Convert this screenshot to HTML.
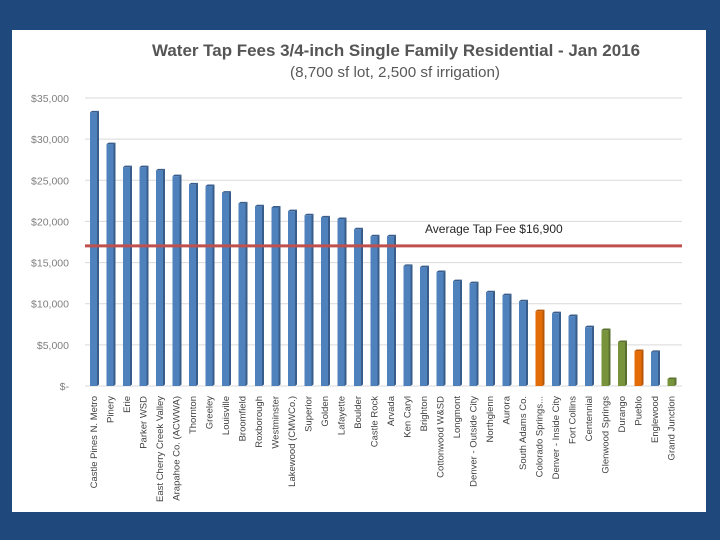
<!DOCTYPE html>
<html><head><meta charset="utf-8"><style>
body{margin:0;width:720px;height:540px;background:#1f497d;overflow:hidden}
svg{display:block}
text{font-family:"Liberation Sans",sans-serif}
</style></head><body>
<svg width="720" height="540">
<rect x="12" y="30" width="694" height="482" fill="#fff"/>
<text x="152" y="56" textLength="488" lengthAdjust="spacingAndGlyphs" font-size="17" font-weight="bold" fill="#555">Water Tap Fees  3/4-inch Single Family Residential - Jan 2016</text>
<text x="290" y="77" textLength="210" lengthAdjust="spacingAndGlyphs" font-size="15" fill="#595959">(8,700 sf lot, 2,500 sf irrigation)</text>
<g id="grid"></g><g id="bars"></g><g id="labels"></g>
</svg>
<script>
const categories=["Castle Pines N. Metro","Pinery","Erie","Parker WSD","East Cherry Creek Valley","Arapahoe Co. (ACWWA)","Thornton","Greeley","Louisville","Broomfield","Roxborough","Westminster","Lakewood (CMWCo.)","Superior","Golden","Lafayette","Boulder","Castle Rock","Arvada","Ken Caryl","Brighton","Cottonwood W&SD","Longmont","Denver - Outside City","Northglenn","Aurora","South Adams Co.","Colorado Springs...","Denver - Inside City","Fort Collins","Centennial","Glenwood Springs","Durango","Pueblo","Englewood","Grand Junction"];
const fees=[33250,29400,26600,26600,26200,25500,24500,24300,23500,22200,21850,21700,21250,20750,20500,20300,19050,18200,18200,14600,14450,13850,12750,12500,11400,11050,10300,9100,8850,8500,7150,6800,5350,4250,4150,850];
const groups=["b","b","b","b","b","b","b","b","b","b","b","b","b","b","b","b","b","b","b","b","b","b","b","b","b","b","b","o","b","b","b","g","g","o","b","g"];
const ticks=[0,5000,10000,15000,20000,25000,30000,35000];
const tickLabels=["$-","$5,000","$10,000","$15,000","$20,000","$25,000","$30,000","$35,000"];
const average=16900;
const NS="http://www.w3.org/2000/svg";
const y0=386,y35=98,x0=85,x1=682,first=93.5,step=16.5;
const Y=v=>y0-(v/35000)*(y0-y35);
const X=i=>first+i*step;
const colors={b:["#4f81bd","#385d8a"],o:["#e36c09","#b65708"],g:["#77933c","#5a7030"]};
function mk(t,a,p){const e=document.createElementNS(NS,t);for(const k in a)e.setAttribute(k,a[k]);p.appendChild(e);return e;}
const grid=document.getElementById('grid');
ticks.forEach((v,i)=>{
 const l=mk('line',{x1:x0,x2:x1,y1:Y(v),y2:Y(v),stroke:'#d9d9d9','stroke-width':1},grid);
 
 
 const t=mk('text',{x:69,y:Y(v)+4,'text-anchor':'end','font-size':10.5,fill:'#7f7f7f'},grid);
 t.textContent=tickLabels[i];
 
 
});
const bars=document.getElementById('bars');
fees.forEach((v,i)=>{
 const c=colors[groups[i]];
 const g=mk('g',{},bars);
 
 
 mk('rect',{x:X(i)-3.5,y:Y(v),width:7,height:y0-Y(v),fill:c[0]},g);
 mk('polygon',{points:`${X(i)+3.5},${Y(v)} ${X(i)+5.5},${Y(v)-1.5} ${X(i)+5.5},${y0-1.5} ${X(i)+3.5},${y0}`,fill:c[1]},g);
 mk('polygon',{points:`${X(i)-3.5},${Y(v)} ${X(i)-1.5},${Y(v)-1.5} ${X(i)+5.5},${Y(v)-1.5} ${X(i)+3.5},${Y(v)}`,fill:c[1]},g);
 const t=mk('text',{transform:`translate(${X(i)+3.5},396) rotate(-90)`,'text-anchor':'end','font-size':9.5,fill:'#404040'},document.getElementById('labels'));
 t.textContent=categories[i];
 
 
});
const al=mk('line',{x1:x0,x2:x1,y1:Y(average)-1,y2:Y(average)-1,stroke:'#c0504d','stroke-width':3},bars);


const at=mk('text',{x:425,y:233,'font-size':12,fill:'#262626'},bars);
at.textContent="Average Tap Fee $16,900";


</script>
</body></html>
